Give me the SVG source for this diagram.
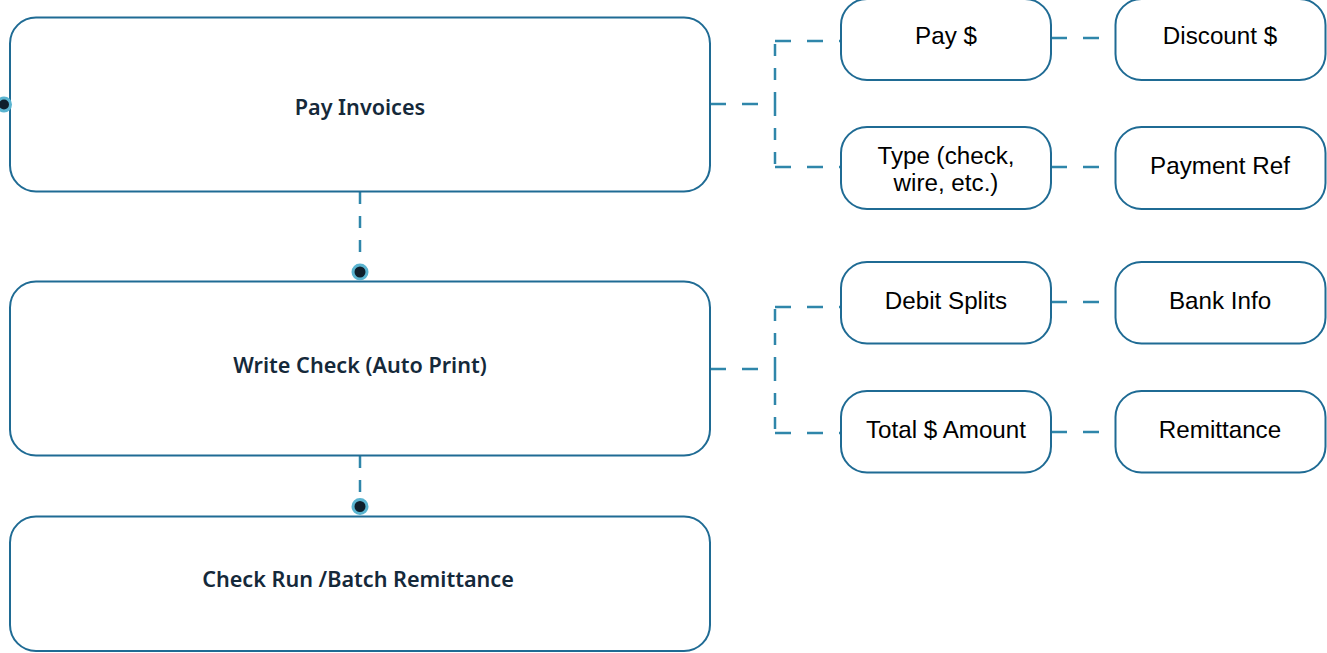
<svg xmlns="http://www.w3.org/2000/svg" width="1327" height="653" viewBox="0 0 1327 653">
<style>
.main{fill:#fff;stroke:#1f6b94;stroke-width:2}
.sub{fill:#fff;stroke:#1f6b94;stroke-width:2}
.t1{font-family:"Noto Sans","Open Sans",sans-serif;font-weight:600;font-size:21.6px;fill:#15293a;text-anchor:middle}
.t2{font-family:"Liberation Sans",Arial,sans-serif;font-size:24.2px;fill:#000;text-anchor:middle}
.c{fill:none;stroke:#2f86aa;stroke-width:2.5}
.h{stroke-dasharray:16 16}
.v{stroke-dasharray:12 12}
.dot{fill:#0f1f2b;stroke:#5ab4d0;stroke-width:3}
</style>
<rect width="1327" height="653" fill="#fff"/>
<g id="connectors">
<path class="c h" d="M710,104 H775"/>
<path class="c v" d="M775,104 V41"/>
<path class="c v" d="M775,104 V167"/>
<path class="c h" d="M775,41 H840"/>
<path class="c h" d="M775,167 H840"/>
<path class="c h" d="M1051,38 H1115"/>
<path class="c h" d="M1051,167 H1115"/>
<path class="c h" d="M710,369 H775"/>
<path class="c v" d="M775,369 V307"/>
<path class="c v" d="M775,369 V433"/>
<path class="c h" d="M775,307 H840"/>
<path class="c h" d="M775,433 H840"/>
<path class="c h" d="M1051,302 H1115"/>
<path class="c h" d="M1051,432 H1115"/>
<path class="c v" d="M360,192 V266"/>
<path class="c v" d="M360,456 V500"/>
</g>
<g id="pay-invoices">
<rect class="main" x="10" y="17.5" width="700" height="174" rx="26"/>
<text class="t1" x="360" y="114.5">Pay Invoices</text>
<circle class="dot" cx="4" cy="104.5" r="6.5"/>
</g>
<g id="write-check">
<rect class="main" x="10" y="281.5" width="700" height="174" rx="26"/>
<text class="t1" x="360" y="372.5">Write Check (Auto Print)</text>
<circle class="dot" cx="360" cy="272" r="7"/>
</g>
<g id="check-run">
<rect class="main" x="10" y="516.5" width="700" height="134.5" rx="26"/>
<text class="t1" x="358" y="586.5">Check Run /Batch Remittance</text>
<circle class="dot" cx="360" cy="506.5" r="7"/>
</g>
<g id="pay-amount">
<rect class="sub" x="841" y="-1" width="210" height="81" rx="26"/>
<text class="t2" x="946" y="44">Pay $</text>
</g>
<g id="discount">
<rect class="sub" x="1115.5" y="-1" width="210" height="81" rx="26"/>
<text class="t2" x="1220" y="44">Discount $</text>
</g>
<g id="type">
<rect class="sub" x="841" y="127" width="210" height="82" rx="26"/>
<text class="t2" x="946" y="164">Type (check,</text>
<text class="t2" x="946" y="191">wire, etc.)</text>
</g>
<g id="payment-ref">
<rect class="sub" x="1115.5" y="127" width="210" height="82" rx="26"/>
<text class="t2" x="1220" y="174">Payment Ref</text>
</g>
<g id="debit-splits">
<rect class="sub" x="841" y="262" width="210" height="81.5" rx="26"/>
<text class="t2" x="946" y="309">Debit Splits</text>
</g>
<g id="bank-info">
<rect class="sub" x="1115.5" y="262" width="210" height="81.5" rx="26"/>
<text class="t2" x="1220" y="309">Bank Info</text>
</g>
<g id="total-amount">
<rect class="sub" x="841" y="391" width="210" height="81.5" rx="26"/>
<text class="t2" x="946" y="438">Total $ Amount</text>
</g>
<g id="remittance">
<rect class="sub" x="1115.5" y="391" width="210" height="81.5" rx="26"/>
<text class="t2" x="1220" y="438">Remittance</text>
</g>
</svg>
